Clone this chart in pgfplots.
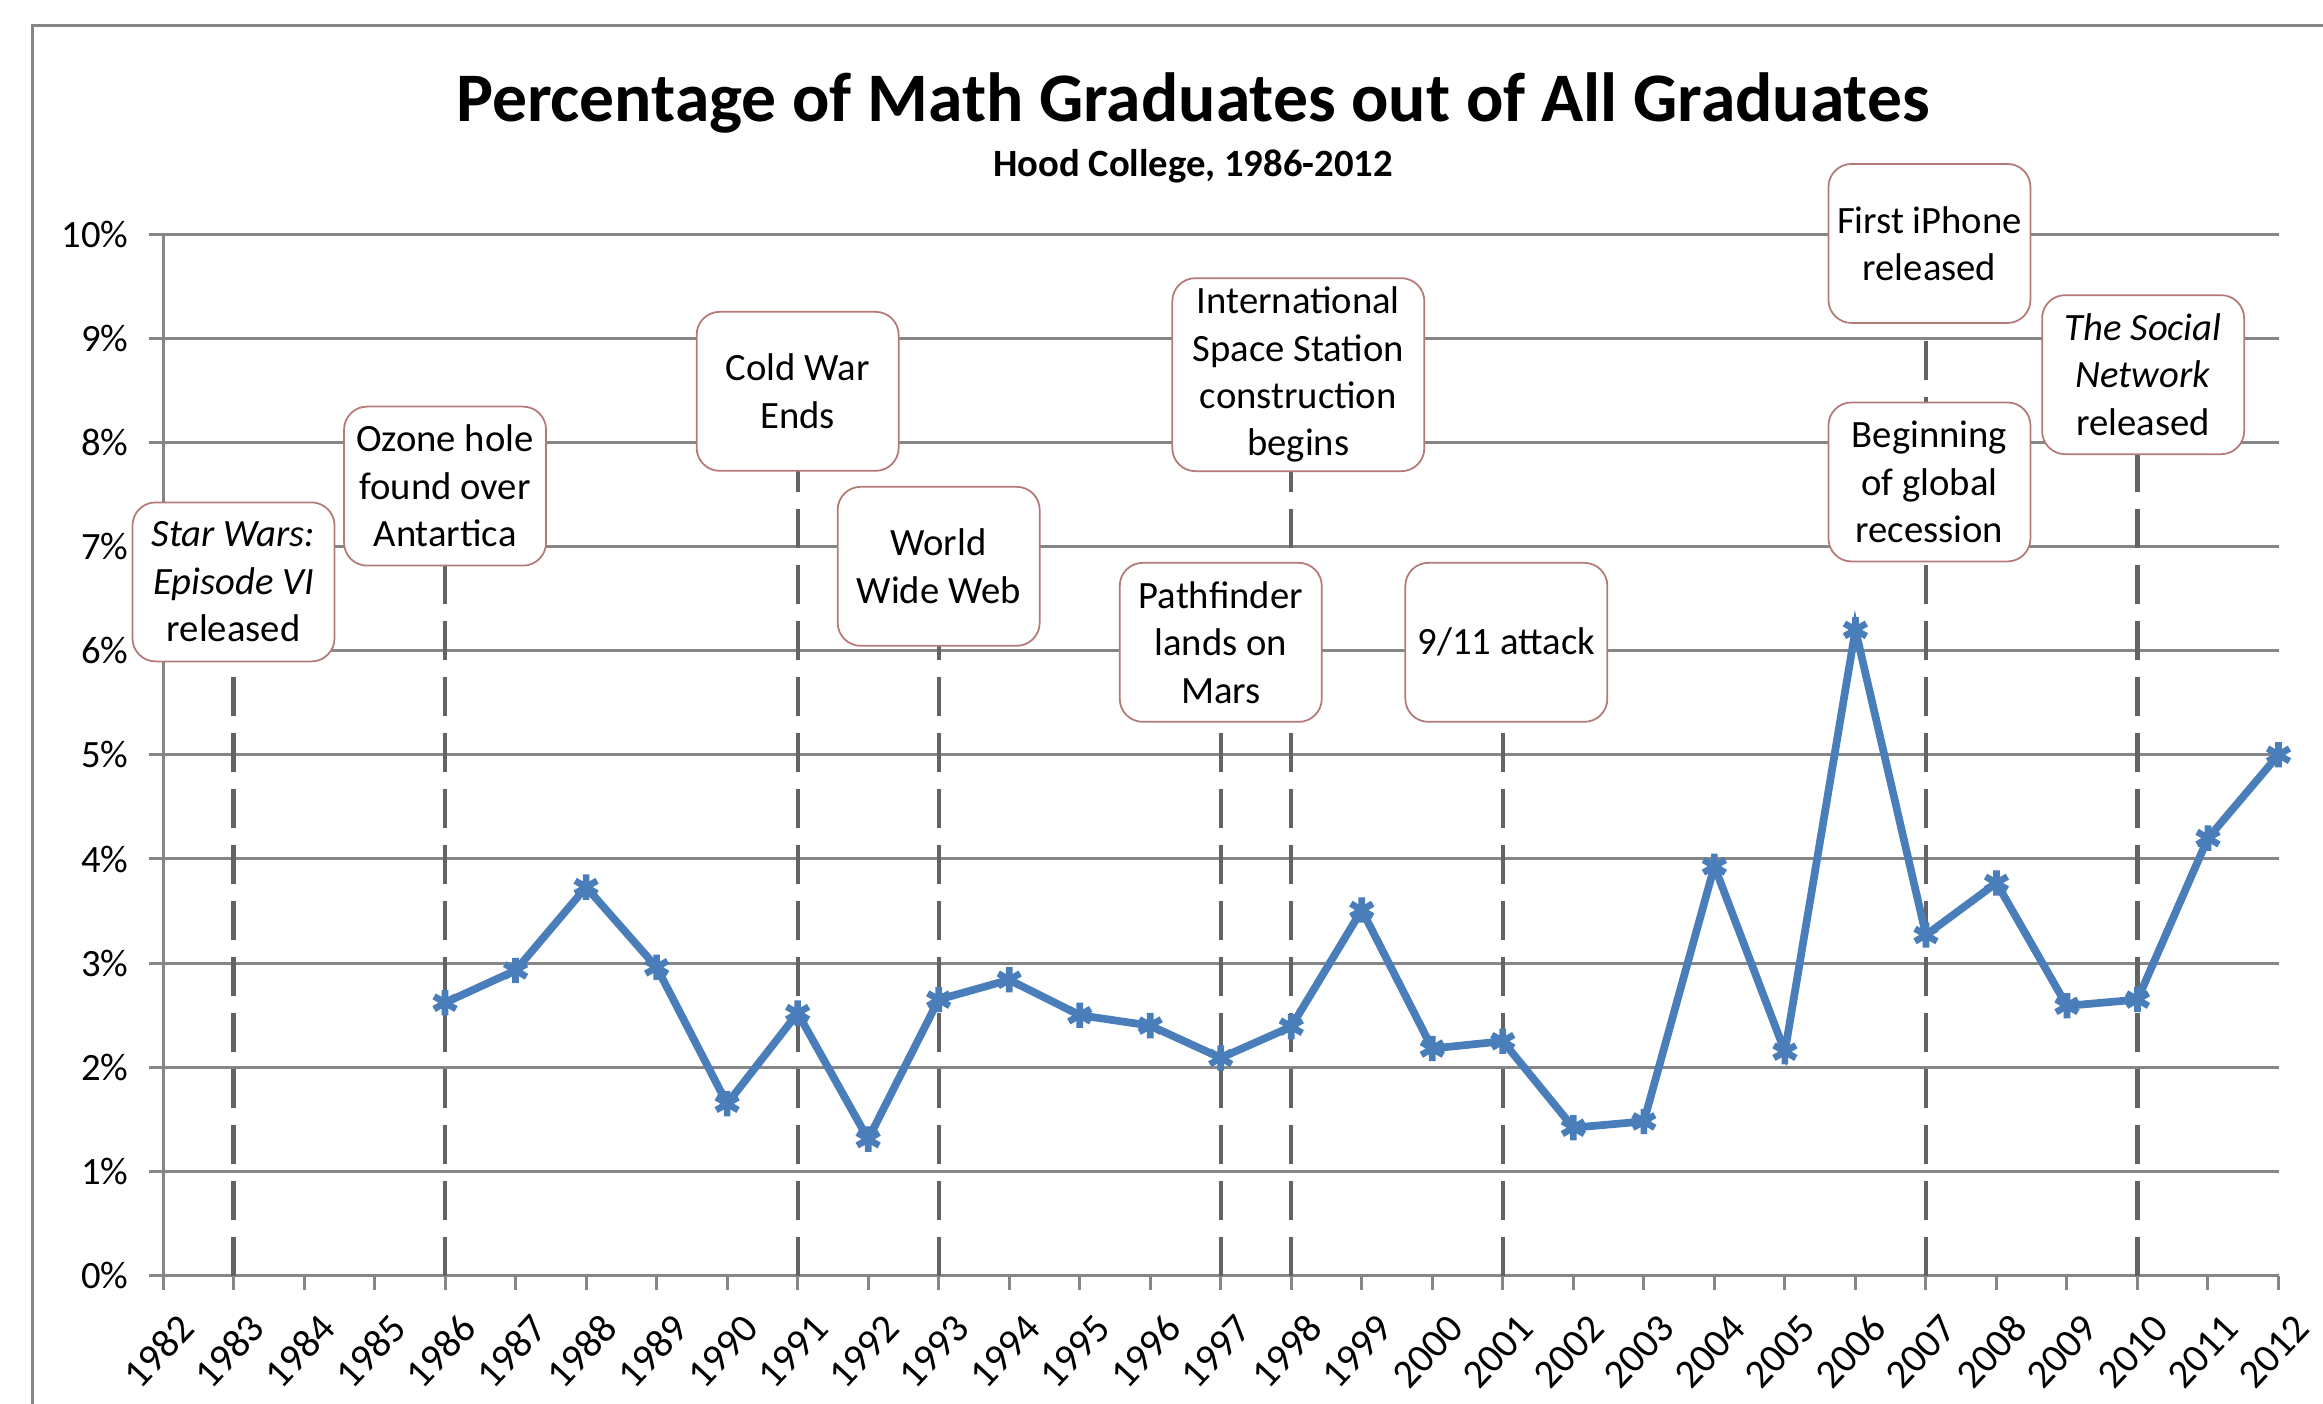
\documentclass[border=0pt]{standalone}
\usepackage{fontspec}
\setmainfont{Carlito}
\usepackage{pgfplots}
\pgfplotsset{compat=1.18}
\definecolor{gridc}{RGB}{134,134,134}
\definecolor{dashc}{RGB}{100,100,100}
\definecolor{linec}{RGB}{74,126,187}
\definecolor{boxc}{RGB}{180,122,120}
\begin{document}
\begin{tikzpicture}[
  ann/.style={draw=boxc, line width=0.5pt, rounded corners=2.3mm, fill=white,
    align=center, minimum width=20.2mm, minimum height=15.9mm, inner sep=1pt,
    font=\fontsize{11}{13.5}\selectfont},
  dl/.style={dashc, line width=1.2pt, dash pattern=on 3.9mm off 1.7mm},
]
\draw[gridc, line width=0.3mm] (3.26mm,-10mm) -- (3.26mm,137.88mm) -- (250mm,137.88mm);
\node[font=\bfseries\fontsize{19.8}{23}\selectfont] at (119.3mm,130.1mm) {Percentage of Math Graduates out of All Graduates};
\node[font=\bfseries\fontsize{11}{13}\selectfont] at (119.3mm,123.8mm) {Hood College, 1986-2012};
\begin{axis}[
  at={(16.3mm,12.84mm)}, anchor=south west,
  scale only axis, width=211.55mm, height=104.15mm,
  xmin=1982, xmax=2012, ymin=0, ymax=10,
  xtick={1982,...,2012}, ytick={0,...,10},
  axis lines*=left,
  ymajorgrids,
  major grid style={gridc, line width=0.3mm},
  axis line style={gridc, line width=0.3mm},
  tick style={gridc, line width=0.3mm},
  tick align=outside, major tick length=1.4mm,
  /pgf/number format/assume math mode=true,
  /pgf/number format/1000 sep={},
  yticklabel={\pgfmathprintnumber{\tick}\%},
  xticklabel style={rotate=47, anchor=east, xshift=0.5mm, yshift=-3.9mm, font=\fontsize{11.5}{13}\selectfont},
  yticklabel style={xshift=-0.8mm, font=\fontsize{11}{13}\selectfont},
  clip=false,
]
\addplot[dl] coordinates {(1983,0) (1983,6.66)};
\addplot[dl] coordinates {(1986,0) (1986,7.58)};
\addplot[dl] coordinates {(1991,0) (1991,8.49)};
\addplot[dl] coordinates {(1993,0) (1993,6.81)};
\addplot[dl] coordinates {(1997,0) (1997,6.08)};
\addplot[dl] coordinates {(1998,0) (1998,8.65)};
\addplot[dl] coordinates {(2001,0) (2001,6.08)};
\addplot[dl] coordinates {(2007,0) (2007,9.91)};
\addplot[dl] coordinates {(2010,0) (2010,8.65)};
\addplot[linec, line width=2.2pt, mark=asterisk, mark size=3.6pt, mark options={solid, line width=1.9pt}] coordinates {
(1986,2.62) (1987,2.93) (1988,3.73) (1989,2.96) (1990,1.65) (1991,2.52) (1992,1.31)
(1993,2.65) (1994,2.84) (1995,2.50) (1996,2.40) (1997,2.09) (1998,2.39) (1999,3.51)
(2000,2.18) (2001,2.25) (2002,1.42) (2003,1.48) (2004,3.93) (2005,2.15) (2006,6.20)
(2007,3.27) (2008,3.77) (2009,2.59) (2010,2.65) (2011,4.20) (2012,5.00)};
\node[ann] at (axis cs:1983,6.66) {\textit{Star Wars:}\\\textit{Episode VI}\\released};
\node[ann] at (axis cs:1986,7.58) {Ozone hole\\found over\\Antartica};
\node[ann] at (axis cs:1991,8.49) {Cold War\\Ends};
\node[ann] at (axis cs:1993,6.81) {World\\Wide Web};
\node[ann] at (axis cs:1997,6.08) {Pathfinder\\lands on\\Mars};
\node[ann, minimum width=25.2mm, minimum height=19.3mm] at (axis cs:1998.1,8.65) {International\\Space Station\\construction\\begins};
\node[ann] at (axis cs:2001.05,6.08) {9/11 attack};
\node[ann] at (axis cs:2007.05,9.91) {First iPhone\\released};
\node[ann] at (axis cs:2007.05,7.62) {Beginning\\of global\\recession};
\node[ann] at (axis cs:2010.08,8.65) {\textit{The Social}\\\textit{Network}\\released};
\end{axis}
\pgfresetboundingbox
\path[use as bounding box] (0,0) rectangle (232.3mm,140.4mm);
\end{tikzpicture}
\end{document}
